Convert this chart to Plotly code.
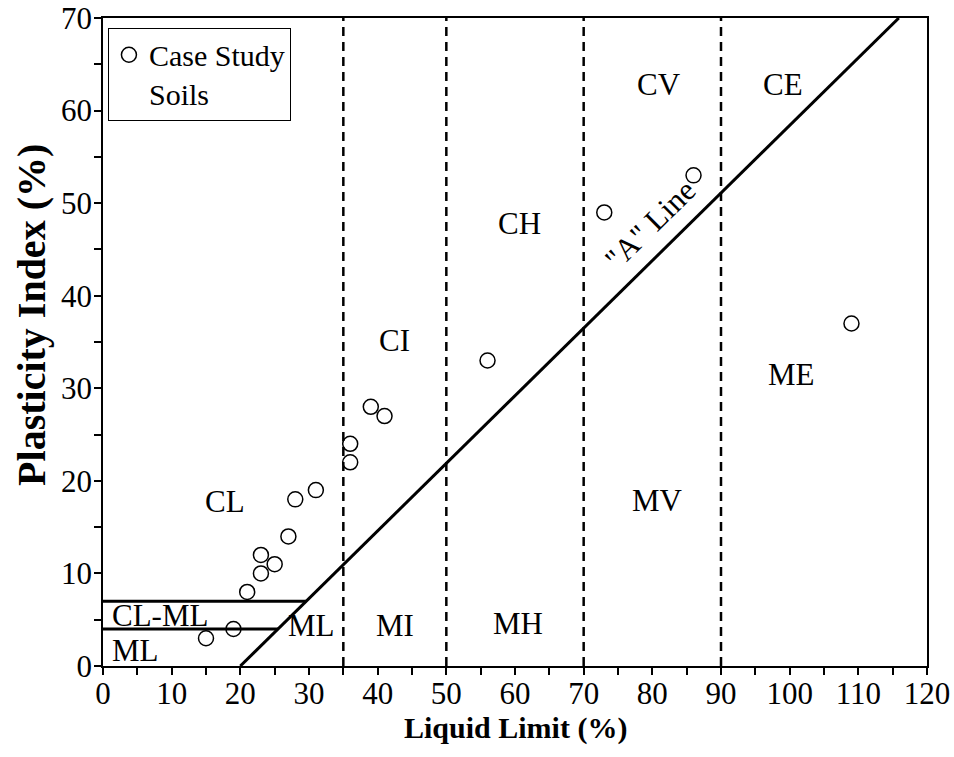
import plotly.graph_objects as go

# ---- data ----
LL = [15, 19, 21, 23, 23, 25, 27, 28, 31, 36, 36, 39, 41, 56, 73, 86, 109]
PI = [3, 4, 8, 10, 12, 11, 14, 18, 19, 22, 24, 28, 27, 33, 49, 53, 37]

A_LINE_LL = [20, 115.9]
A_LINE_PI = [0, 70]

CLML_UPPER_LL = [0, 29.6]
CLML_UPPER_PI = [7, 7]
CLML_LOWER_LL = [0, 25.5]
CLML_LOWER_PI = [4, 4]

DIVIDERS_LL = [35, 50, 70, 90]
DIVIDER_PI = [0, 70]

ZONE_LABELS = ["CL", "CL-ML", "ML", "ML", "MI", "MH", "CI", "CH", "CV", "CE", "ME", "MV"]
ZONE_X = [17.8, 8.3, 4.7, 30.4, 42.5, 60.5, 42.5, 60.7, 80.9, 99.1, 100.2, 80.7]
ZONE_Y = [17.8, 5.5, 1.7, 4.4, 4.4, 4.6, 35.2, 47.8, 62.8, 62.8, 31.5, 17.9]

X_TICKS = list(range(0, 121, 10))
Y_TICKS = list(range(0, 71, 10))

FONT = "Liberation Serif, Times New Roman, serif"

fig = go.Figure()

line_style = dict(color="black", width=3)
fig.add_trace(go.Scatter(x=A_LINE_LL, y=A_LINE_PI, mode="lines", line=line_style,
                         showlegend=False, hoverinfo="skip"))
fig.add_trace(go.Scatter(x=CLML_UPPER_LL, y=CLML_UPPER_PI, mode="lines", line=line_style,
                         showlegend=False, hoverinfo="skip"))
fig.add_trace(go.Scatter(x=CLML_LOWER_LL, y=CLML_LOWER_PI, mode="lines", line=line_style,
                         showlegend=False, hoverinfo="skip"))
for xv in DIVIDERS_LL:
    fig.add_trace(go.Scatter(x=[xv, xv], y=DIVIDER_PI, mode="lines",
                             line=dict(color="black", width=2.5, dash="9px,6px"),
                             showlegend=False, hoverinfo="skip"))

fig.add_trace(go.Scatter(x=LL, y=PI, mode="markers", name="Case Study<br>Soils",
                         marker=dict(symbol="circle-open", size=15, color="black",
                                     line=dict(color="black", width=1.5))))

for t, xv, yv in zip(ZONE_LABELS, ZONE_X, ZONE_Y):
    fig.add_annotation(x=xv, y=yv, text=t, showarrow=False,
                       font=dict(family=FONT, size=31, color="black"))

fig.add_annotation(x=79.7, y=47.7, text='"A" Line', showarrow=False, textangle=-44.5,
                   font=dict(family=FONT, size=31, color="black"))

# axis titles (positioned as in the reference)
fig.add_annotation(xref="paper", yref="paper", x=-0.086, y=0.542,
                   xanchor="center", yanchor="middle",
                   text="<b>Plasticity Index (%)</b>", showarrow=False, textangle=-90,
                   font=dict(family=FONT, size=40, color="black"))
fig.add_annotation(xref="paper", yref="paper", x=0.5, y=-0.095,
                   xanchor="center", yanchor="middle",
                   text="<b>Liquid Limit (%)</b>", showarrow=False,
                   font=dict(family=FONT, size=30, color="black"))

axis_common = dict(
    showline=True, linecolor="black", linewidth=1.5, mirror=True,
    ticks="outside", ticklen=7, tickwidth=1.5, tickcolor="black",
    showgrid=False, zeroline=False, automargin=False,
    ticklabeloverflow="allow",
    tickfont=dict(family=FONT, size=31, color="black"),
    minor=dict(ticks="outside", ticklen=7, tickwidth=1.5, tickcolor="black", dtick=5, showgrid=False),
)

fig.update_xaxes(range=[0, 120], tickvals=X_TICKS, ticklabelstandoff=-8, **axis_common)
fig.update_yaxes(range=[0, 70], tickvals=Y_TICKS, ticklabelstandoff=-4, **axis_common)

fig.update_layout(
    width=954, height=757,
    margin=dict(l=103, r=27, t=18, b=91),
    plot_bgcolor="white", paper_bgcolor="white",
    font=dict(family=FONT, color="black"),
    legend=dict(x=0.006, y=0.985, xanchor="left", yanchor="top",
                bordercolor="black", borderwidth=1, bgcolor="white",
                font=dict(family=FONT, size=30, color="black"),
                valign="top", itemwidth=30, tracegroupgap=0),
)

# remove the browser's default 8px body margin so the figure fills the window
fig.write_html("out.html", config={"displayModeBar": False},
               post_script="document.body.style.margin='0px';")
